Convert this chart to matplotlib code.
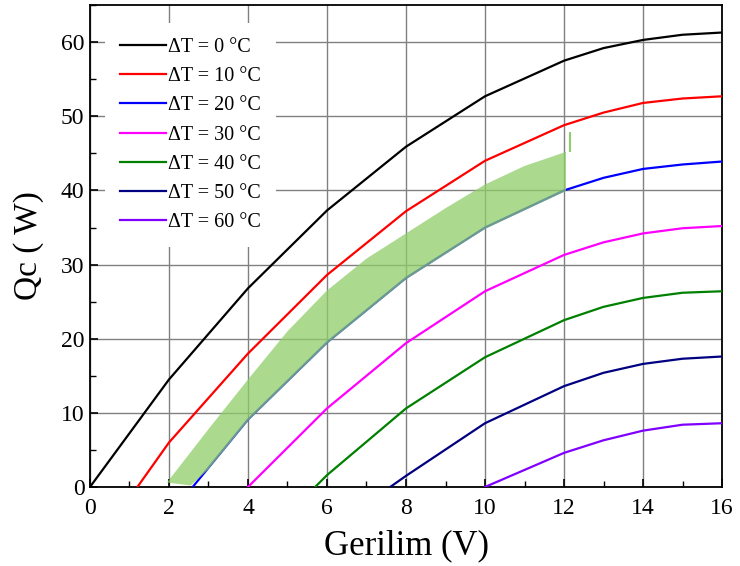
import matplotlib.pyplot as plt
from matplotlib.ticker import MultipleLocator

plt.rcParams['font.family'] = ['Liberation Serif', 'DejaVu Serif']

# voltage grid used by the curves
v_full = [2, 4, 6, 8, 10, 12, 13, 14, 15, 16]

# Qc curves, one per temperature difference (start point where Qc = 0)
dt0_v = [0] + v_full
dt0_q = [0, 14.5, 26.8, 37.3, 45.9, 52.7, 57.5, 59.2, 60.3, 61.0, 61.3]
dt10_v = [1.2] + v_full
dt10_q = [0, 6.0, 18.0, 28.6, 37.2, 44.0, 48.8, 50.5, 51.8, 52.4, 52.7]
dt20_v = [2.6, 4, 6, 8, 10, 12, 13, 14, 15, 16]
dt20_q = [0, 9.1, 19.5, 28.2, 35.0, 40.0, 41.7, 42.9, 43.5, 43.9]
dt30_v = [4.0, 6, 8, 10, 12, 13, 14, 15, 16]
dt30_q = [0, 10.6, 19.4, 26.4, 31.3, 33.0, 34.2, 34.9, 35.2]
dt40_v = [5.7, 6, 8, 10, 12, 13, 14, 15, 16]
dt40_q = [0, 1.6, 10.6, 17.5, 22.5, 24.3, 25.5, 26.2, 26.4]
dt50_v = [7.6, 8, 10, 12, 13, 14, 15, 16]
dt50_q = [0, 1.5, 8.6, 13.6, 15.4, 16.6, 17.3, 17.6]
dt60_v = [10.0, 12, 13, 14, 15, 16]
dt60_q = [0, 4.6, 6.3, 7.6, 8.4, 8.6]

series = [
    (dt0_v, dt0_q, 'black', '0'),
    (dt10_v, dt10_q, '#ff0000', '10'),
    (dt20_v, dt20_q, '#0000ff', '20'),
    (dt30_v, dt30_q, '#ff00ff', '30'),
    (dt40_v, dt40_q, '#008000', '40'),
    (dt50_v, dt50_q, '#000080', '50'),
    (dt60_v, dt60_q, '#8000ff', '60'),
]

# highlighted operating band
band_top_v = [1.95, 3, 4, 5, 6, 7, 8, 9, 10, 11, 12.05]
band_top_q = [0.6, 7.8, 14.5, 21.0, 26.5, 30.8, 34.2, 37.6, 40.8, 43.3, 45.2]
band_bot_v = [12.05, 12, 10, 8, 6, 4, 3, 2.55, 1.95]
band_bot_q = [39.8, 39.8, 34.8, 28.0, 19.3, 8.9, 2.4, 0.2, 0.6]

fig = plt.figure(figsize=(7.4, 5.66), dpi=100)
ax = fig.add_axes([0.1216, 0.1396, 0.8541, 0.8514])

for v, q, c, lab in series:
    ax.plot(v, q, color=c, lw=1.6, label='ΔT = ' + lab + ' °C', zorder=3)

ax.fill(band_top_v + band_bot_v, band_top_q + band_bot_q,
        color='#8fce6a', alpha=0.75, lw=0, zorder=4)
ax.plot([12.15, 12.15], [45.3, 47.8], color='#8fce6a', lw=1.5, zorder=4)

ax.set_xlim(0, 16)
ax.set_ylim(0, 65)
ax.xaxis.set_major_locator(MultipleLocator(2))
ax.xaxis.set_minor_locator(MultipleLocator(1))
ax.yaxis.set_major_locator(MultipleLocator(10))
ax.yaxis.set_minor_locator(MultipleLocator(5))
ax.tick_params(which='both', direction='in', top=False, right=False)
ax.tick_params(which='major', length=6, width=1.2, labelsize=17)
ax.tick_params(axis='x', pad=8)
ax.tick_params(axis='y', pad=4)
ax.tick_params(which='minor', length=4, width=1.0)
ax.grid(True, which='major', color='#808080', lw=1.0, zorder=1)
for s in ax.spines.values():
    s.set_linewidth(1.3)

ax.set_xlabel('Gerilim (V)', fontsize=25, labelpad=7)
ax.set_ylabel('Qc ( W)', fontsize=24, labelpad=12)

leg = ax.legend(loc='upper left', bbox_to_anchor=(0.024, 0.963), frameon=True,
                fontsize=14.5, handlelength=2.25, handletextpad=0.1,
                labelspacing=0.5, borderpad=0.75, borderaxespad=0,
                fancybox=False)
leg.get_frame().set_edgecolor('none')
leg.get_frame().set_facecolor('white')
leg.get_frame().set_alpha(1)
leg.set_zorder(5)

fig.savefig('out.png', dpi=100)
